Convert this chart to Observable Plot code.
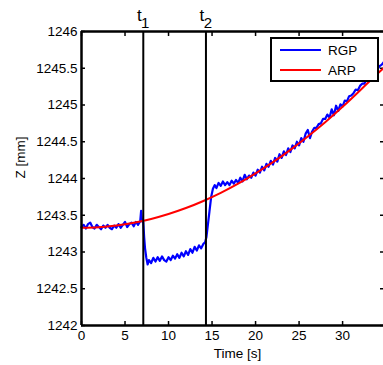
<!DOCTYPE html>
<html><head><meta charset="utf-8">
<script src="https://cdn.jsdelivr.net/npm/d3@7"></script>
<script src="https://cdn.jsdelivr.net/npm/@observablehq/plot@0.6"></script>
<style>
body{margin:0;background:#fff;font-family:"Liberation Sans",Arial,Helvetica,sans-serif;}
#wrap{position:relative;width:383px;height:365px;overflow:hidden;}
#legend{position:absolute;left:270px;top:37px;width:105px;height:41px;border:2px solid #000;background:#fff;font-size:13.5px;}
#legend .row{position:absolute;left:8px;height:20px;display:flex;align-items:center;}
#legend .sw{width:41px;height:2px;margin-right:7px;}
</style>
</head><body><div id="wrap"></div>
<script>
const xTicks = [0, 5, 10, 15, 20, 25, 30];
const yTicks = [1242, 1242.5, 1243, 1243.5, 1244, 1244.5, 1245, 1245.5, 1246];
const eventTimes = [7.1, 14.3];
const eventLabels = ["1", "2"];
const seriesNames = ["RGP", "ARP"];
const seriesColors = ["#0000ff", "#ff0000"];

const rgpTime = [
  0,0.25,0.5,0.75,1,1.25,1.5,1.75,2,2.25,2.5,2.75,3,3.25,3.5,3.75,4,4.25,4.5,4.75,
  5,5.25,5.5,5.75,6,6.25,6.5,6.75,6.85,6.95,7.1,7.2,7.3,7.45,7.6,7.75,
  8,8.25,8.5,8.75,9,9.25,9.5,9.75,10,10.25,10.5,10.75,11,11.25,11.5,11.75,
  12,12.25,12.5,12.75,13,13.25,13.5,13.75,14,14.2,14.35,14.5,14.7,14.9,15.1,15.3,15.5,15.75,
  16,16.25,16.5,16.75,17,17.25,17.5,17.75,18,18.25,18.5,18.75,19,19.25,19.5,19.75,
  20,20.25,20.5,20.75,21,21.25,21.5,21.75,22,22.25,22.5,22.75,23,23.25,23.5,23.75,
  24,24.25,24.5,24.75,25,25.25,25.5,25.75,26,26.25,26.5,26.75,27,27.25,27.5,27.75,
  28,28.25,28.5,28.75,29,29.25,29.5,29.75,30,30.25,30.5,30.75,31,31.25,31.5,31.75,
  32,32.25,32.5,32.75,33,33.25,33.5,33.75,34,34.25,34.5,34.7
];
const rgpZ = [
  1243.34,1243.37,1243.32,1243.38,1243.40,1243.34,1243.32,1243.37,1243.34,1243.31,1243.36,1243.33,1243.37,1243.33,1243.31,1243.36,1243.33,1243.38,1243.33,1243.37,
  1243.41,1243.34,1243.38,1243.40,1243.35,1243.41,1243.37,1243.42,1243.56,1243.42,1243.40,1243.20,1243.05,1242.92,1242.83,1242.89,
  1242.85,1242.92,1242.87,1242.93,1242.88,1242.94,1242.89,1242.87,1242.93,1242.89,1242.95,1242.91,1242.97,1242.92,1242.99,1242.94,
  1243.01,1242.96,1243.04,1242.99,1243.07,1243.02,1243.09,1243.05,1243.11,1243.13,1243.20,1243.35,1243.55,1243.75,1243.86,1243.91,1243.87,1243.94,
  1243.90,1243.96,1243.91,1243.95,1243.91,1243.97,1243.93,1243.98,1243.94,1244.01,1243.96,1244.05,1243.99,1244.04,1244.01,1244.08,
  1244.04,1244.12,1244.08,1244.16,1244.11,1244.20,1244.16,1244.24,1244.19,1244.28,1244.23,1244.33,1244.28,1244.37,1244.32,1244.41,
  1244.36,1244.45,1244.41,1244.50,1244.45,1244.55,1244.50,1244.61,1244.66,1244.55,1244.64,1244.69,1244.69,1244.74,1244.75,1244.81,
  1244.81,1244.87,1244.83,1244.94,1244.86,1244.99,1244.92,1245.01,1244.98,1245.06,1245.05,1245.12,1245.13,1245.16,1245.21,1245.20,
  1245.26,1245.29,1245.29,1245.35,1245.35,1245.40,1245.41,1245.46,1245.48,1245.53,1245.55,1245.58
];
const arpTime = [0, 2, 4, 6, 8, 10, 12, 14, 16, 18, 20, 22, 24, 26, 28, 30, 32, 34, 34.7];
const arpZ = [1243.330, 1243.338, 1243.361, 1243.398, 1243.450, 1243.517, 1243.598, 1243.694, 1243.805,
  1243.930, 1244.070, 1244.222, 1244.390, 1244.572, 1244.766, 1244.975, 1245.198, 1245.425, 1245.500];

const rgp = rgpTime.map((t, i) => ({t, z: rgpZ[i]}));
const arp = arpTime.map((t, i) => ({t, z: arpZ[i]}));
const events = eventTimes.map((t, i) => ({t, label: eventLabels[i]}));

const font = '"Liberation Sans", Arial, Helvetica, sans-serif';
const chart = Plot.plot({
  width: 383,
  height: 365,
  marginLeft: 81,
  marginRight: 0,
  marginTop: 31,
  marginBottom: 40,
  style: {background: "white", fontFamily: font, fontSize: "13.5px", color: "black", overflow: "visible"},
  x: {domain: [0, 34.7]},
  y: {domain: [1242, 1246]},
  marks: [
    Plot.axisX({anchor: "bottom", ticks: xTicks, tickSize: -4, tickPadding: 9, strokeWidth: 1.5, label: null, fontSize: 13.5}),
    Plot.axisX({anchor: "top", ticks: xTicks, tickSize: -4, tickFormat: () => "", strokeWidth: 1.5, label: null}),
    Plot.axisY({anchor: "left", ticks: yTicks, tickSize: -4, tickPadding: 8, strokeWidth: 1.5, label: null, fontSize: 13.5, tickFormat: d3.format("")}),
    Plot.axisY({anchor: "right", ticks: yTicks, tickSize: -4, tickFormat: () => "", strokeWidth: 1.5, label: null}),
    Plot.line(rgp, {x: "t", y: "z", stroke: seriesColors[0], strokeWidth: 2.2}),
    Plot.line(arp, {x: "t", y: "z", stroke: seriesColors[1], strokeWidth: 2, curve: "natural"}),
    Plot.ruleX(events, {x: "t", stroke: "black", strokeWidth: 2}),
    Plot.ruleY([1242, 1246], {stroke: "black", strokeWidth: 2.5}),
    Plot.ruleX([0], {stroke: "black", strokeWidth: 2.5}),
    Plot.text(events, {x: "t", text: () => "t", frameAnchor: "top", dy: -11, dx: -4, fontSize: 17, lineAnchor: "bottom"}),
    Plot.text(events, {x: "t", text: "label", frameAnchor: "top", dy: -4, dx: 2, fontSize: 15, lineAnchor: "bottom"}),
    Plot.text(["Z [mm]"], {frameAnchor: "left", rotate: -90, dx: -61, fontSize: 13.5}),
    Plot.text(["Time [s]"], {frameAnchor: "bottom", dy: 32, dx: 5, fontSize: 13.5})
  ]
});

const wrap = document.getElementById("wrap");
wrap.appendChild(chart);
const legend = document.createElement("div");
legend.id = "legend";
seriesNames.forEach((name, i) => {
  const row = document.createElement("div");
  row.className = "row";
  row.style.top = (i * 20 + 1) + "px";
  const sw = document.createElement("span");
  sw.className = "sw";
  sw.style.background = seriesColors[i];
  const lab = document.createElement("span");
  lab.textContent = name;
  row.appendChild(sw);
  row.appendChild(lab);
  legend.appendChild(row);
});
wrap.appendChild(legend);
</script>
</body></html>
